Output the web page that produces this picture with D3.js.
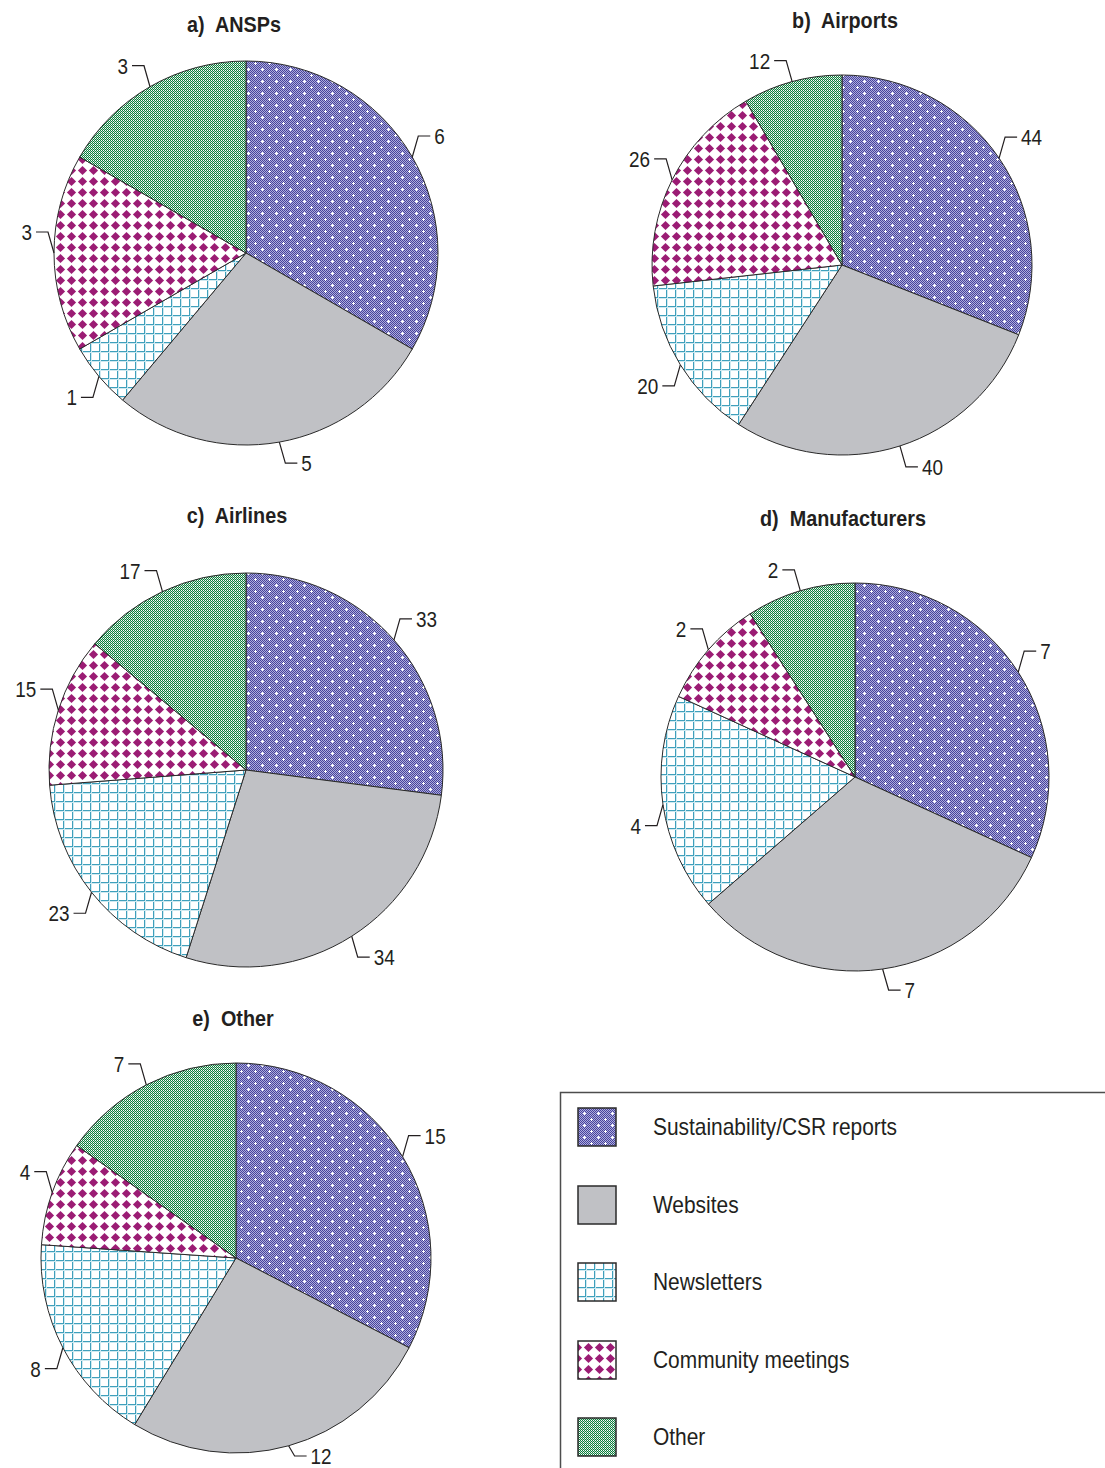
<!DOCTYPE html>
<html>
<head>
<meta charset="utf-8">
<script src="https://cdn.jsdelivr.net/npm/d3@7"></script>
<style>
  html, body { margin: 0; padding: 0; background: #ffffff; }
  svg { display: block; }
  text { font-family: "Liberation Sans", Arial, sans-serif; fill: #231f20; }
</style>
</head>
<body>
<svg id="chart" width="1105" height="1468"></svg>
<script>
// Communication channels, clockwise from 12 o'clock
const categories = ["Sustainability/CSR reports", "Websites", "Newsletters", "Community meetings", "Other"];

// Panel titles
const groups = ["a)  ANSPs", "b)  Airports", "c)  Airlines", "d)  Manufacturers", "e)  Other"];

// Number of respondents per channel, one array per stakeholder group
const anspValues         = [6, 5, 1, 3, 3];
const airportValues      = [44, 40, 20, 26, 12];
const airlineValues      = [33, 34, 23, 15, 17];
const manufacturerValues = [7, 7, 4, 2, 2];
const otherValues        = [15, 12, 8, 4, 7];

const seriesValues = [anspValues, airportValues, airlineValues, manufacturerValues, otherValues];

// Page layout for each panel (pie centre, radius, title placement)
const W = 1105, H = 1468;
const panelLayout = [
  { cx: 246, cy: 253,  r: 192, tx: 234, ty: 32 },
  { cx: 842, cy: 265,  r: 190, tx: 845, ty: 28 },
  { cx: 246, cy: 770,  r: 197, tx: 237, ty: 523 },
  { cx: 855, cy: 777,  r: 194, tx: 843, ty: 526 },
  { cx: 236, cy: 1258, r: 195, tx: 233, ty: 1026 }
];

const svg = d3.select("#chart");
const defs = svg.append("defs");

// Condensed-looking text: regular face squeezed horizontally
function condensedText(parent, x, y, str, opts = {}) {
  const t = parent.append("text")
    .attr("transform", `translate(${x},${y}) scale(${opts.sx || 0.86},1)`)
    .attr("dy", opts.dy || 0)
    .attr("text-anchor", opts.anchor || "start")
    .style("font-size", (opts.size || 22) + "px")
    .style("white-space", "pre")
    .text(str);
  if (opts.bold) t.style("font-weight", "bold");
  return t;
}

// ---- fill patterns ----
// Each set is anchored to the page pixel grid (ox, oy = offset of the
// user space that references it) so the 1px textures stay crisp.
function px(p, x, y, w, h, c) {
  p.append("rect").attr("x", x).attr("y", y).attr("width", w).attr("height", h)
    .attr("fill", c).attr("shape-rendering", "crispEdges");
}
function newPattern(id, w, h, bg, ox, oy) {
  const p = defs.append("pattern").attr("id", id)
    .attr("patternUnits", "userSpaceOnUse")
    .attr("x", -ox).attr("y", -oy)
    .attr("width", w).attr("height", h);
  px(p, 0, 0, w, h, bg);
  return p;
}

function makePatternSet(key, ox, oy) {
  // Sustainability reports: dotted lavender with small white crosses
  {
    const w = 14, h = 12;
    const p = newPattern("patReports" + key, w, h, "#adacdd", ox, oy);
    for (let y = 0; y < h; y++)
      for (let x = (y % 2); x < w; x += 2) px(p, x, y, 1, 1, "#47439b");
    [[3, 3], [10, 9]].forEach(([x, y]) => {
      px(p, x - 1, y, 3, 1, "#ffffff");
      px(p, x, y - 1, 1, 3, "#ffffff");
    });
  }
  // Newsletters: teal grid on white
  {
    const s = 9;
    const p = newPattern("patNews" + key, s, s, "#ffffff", ox, oy);
    px(p, 0, 0, s, 1, "#3fa0bc");
    px(p, 0, 0, 1, s, "#3fa0bc");
    px(p, 0, 1, s, 1, "#cfe9f0");
    px(p, 1, 0, 1, s, "#cfe9f0");
  }
  // Community meetings: magenta diamonds on white
  {
    const s = 11, hd = 4.6, c = s / 2;
    const p = newPattern("patCommunity" + key, s, s, "#ffffff", ox, oy);
    p.append("path")
      .attr("d", `M${c},${c - hd}L${c + hd},${c}L${c},${c + hd}L${c - hd},${c}Z`)
      .attr("fill", "#9b1c74");
  }
  // Other: fine green checker
  {
    const p = newPattern("patOther" + key, 2, 2, "#ffffff", ox, oy);
    px(p, 0, 0, 1, 1, "#0c7d3d");
    px(p, 1, 1, 1, 1, "#0c7d3d");
    px(p, 0, 1, 1, 1, "#b9ddc6");
  }
  return d3.scaleOrdinal()
    .domain(categories)
    .range([`url(#patReports${key})`, "#c0c1c5", `url(#patNews${key})`,
            `url(#patCommunity${key})`, `url(#patOther${key})`]);
}

// ---- pies ----
const pie = d3.pie().sort(null).value(d => d.value);

groups.forEach((title, gi) => {
  const L = panelLayout[gi];
  const fills = makePatternSet("-p" + gi, L.cx, L.cy);
  const data = categories.map((c, i) => ({ category: c, value: seriesValues[gi][i] }));
  const arcs = pie(data);
  const arc = d3.arc().innerRadius(0).outerRadius(L.r);

  condensedText(svg, L.tx, L.ty, title, { anchor: "middle", bold: true, sx: 0.9 });

  const g = svg.append("g").attr("transform", `translate(${L.cx},${L.cy})`);

  g.selectAll("path.slice")
    .data(arcs)
    .join("path")
    .attr("class", "slice")
    .attr("d", arc)
    .attr("fill", d => fills(d.data.category))
    .attr("stroke", "#2a2a2a")
    .attr("stroke-width", 1)
    .attr("stroke-linejoin", "round");

  // value labels with elbow leader lines
  const labels = g.selectAll("g.lbl").data(arcs).join("g").attr("class", "lbl");
  labels.each(function (d) {
    const a = (d.startAngle + d.endAngle) / 2;
    const sx = Math.sin(a), cy = -Math.cos(a);
    const side = sx >= 0 ? 1 : -1;
    const vert = cy < 0.05 ? -1 : 1;
    const qx = L.r * sx, qy = L.r * cy;
    const ex = qx + side * 6;
    // keep labels inside the page
    const ey = Math.min(qy + vert * 21, H - 12 - L.cy);
    const hx = ex + side * 12;
    const sel = d3.select(this);
    sel.append("path")
      .attr("d", `M${qx},${qy}L${ex},${ey}L${hx},${ey}`)
      .attr("fill", "none")
      .attr("stroke", "#231f20")
      .attr("stroke-width", 1.2);
    condensedText(sel, hx + side * 4, ey, String(d.data.value),
      { anchor: side > 0 ? "start" : "end", dy: "0.36em" });
  });
});

// ---- legend ----
const legendFills = makePatternSet("-legend", 0, 0);
const legend = svg.append("g");
legend.append("path")
  .attr("d", `M560.5,${H}V1092.5H${W}`)
  .attr("fill", "none")
  .attr("stroke", "#4d4d4d")
  .attr("stroke-width", 1.5);

const legendY = d3.scalePoint()
  .domain(categories)
  .range([1127, 1437]);

legend.selectAll("rect.swatch").data(categories).join("rect")
  .attr("class", "swatch")
  .attr("x", 578).attr("y", d => Math.round(legendY(d)) - 19)
  .attr("width", 38).attr("height", 38)
  .attr("fill", d => legendFills(d))
  .attr("stroke", "#2a2a2a")
  .attr("stroke-width", 1.5);

categories.forEach(d => {
  condensedText(legend, 653, Math.round(legendY(d)), d, { dy: "0.36em", size: 23, sx: 0.91 });
});
</script>
</body>
</html>
